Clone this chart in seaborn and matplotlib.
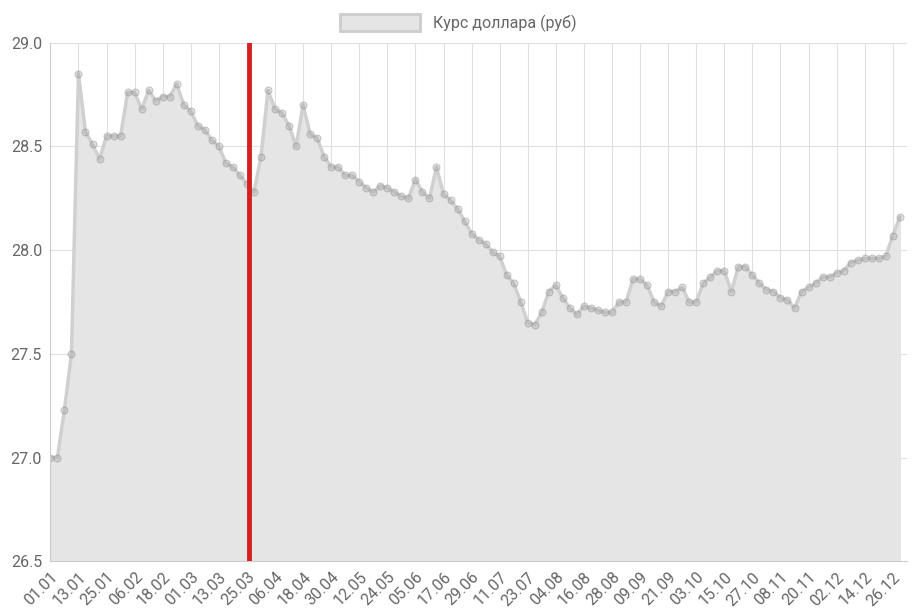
import matplotlib
matplotlib.use("Agg")
import matplotlib.pyplot as plt
import matplotlib.patches as mpatches
import seaborn as sns
import pandas as pd
import numpy as np

# курс доллара, 2000 год, отсчёт каждые 3 дня с 01.01
rate = [27.00, 27.00, 27.23, 27.50, 28.85, 28.57, 28.51, 28.44, 28.55, 28.55,
        28.55, 28.76, 28.76, 28.68, 28.77, 28.72, 28.74, 28.74, 28.80, 28.70,
        28.67, 28.60, 28.58, 28.53, 28.50, 28.42, 28.40, 28.36, 28.32, 28.28,
        28.45, 28.77, 28.68, 28.66, 28.60, 28.50, 28.70, 28.56, 28.54, 28.45,
        28.40, 28.40, 28.36, 28.36, 28.33, 28.30, 28.28, 28.31, 28.30, 28.28,
        28.26, 28.25, 28.34, 28.28, 28.25, 28.40, 28.27, 28.24, 28.20, 28.14,
        28.08, 28.05, 28.03, 27.99, 27.97, 27.88, 27.84, 27.75, 27.65, 27.64,
        27.70, 27.80, 27.83, 27.77, 27.72, 27.69, 27.73, 27.72, 27.71, 27.70,
        27.70, 27.75, 27.75, 27.86, 27.86, 27.83, 27.75, 27.73, 27.80, 27.80,
        27.82, 27.75, 27.75, 27.84, 27.87, 27.90, 27.90, 27.80, 27.92, 27.92,
        27.88, 27.84, 27.81, 27.80, 27.77, 27.76, 27.72, 27.80, 27.82, 27.84,
        27.87, 27.87, 27.89, 27.90, 27.94, 27.95, 27.96, 27.96, 27.96, 27.97,
        28.07, 28.16]
step_days = 3
event_date = "2000-03-26"

dates = pd.date_range("2000-01-01", periods=len(rate), freq=f"{step_days}D")
df = pd.DataFrame({"day": (dates - dates[0]).days, "rate": rate})
tick_dates = pd.date_range("2000-01-01", "2000-12-31", freq="12D")
tick_pos = (tick_dates - dates[0]).days
tick_labels = [d.strftime("%d.%m") for d in tick_dates]
event_pos = (pd.Timestamp(event_date) - dates[0]).days

sns.set_style("white")
plt.rcParams["font.family"] = ["Roboto", "DejaVu Sans"]

fig, ax = plt.subplots(figsize=(9.16, 6.10), dpi=100)
ax.fill_between(df["day"], 26.5, df["rate"], color="#e5e5e5", zorder=1)
sns.lineplot(data=df, x="day", y="rate", ax=ax, color="#d0d0d0", lw=2.5,
             marker="o", markersize=5, markerfacecolor=(0.55, 0.55, 0.55, 0.25),
             markeredgecolor=(0.55, 0.55, 0.55, 0.45), zorder=2)
ax.axvline(event_pos, ymin=0, ymax=1, color="#d62020", lw=3.5, zorder=3)

ax.set_xlim(0, 366)
ax.set_ylim(26.5, 29.0)
ax.set_yticks([26.5, 27.0, 27.5, 28.0, 28.5, 29.0])
ax.set_yticklabels(["26.5", "27.0", "27.5", "28.0", "28.5", "29.0"])
ax.set_xticks(tick_pos)
ax.set_xticklabels(tick_labels, rotation=45, ha="right", rotation_mode="anchor")
ax.tick_params(colors="#666666", labelsize=11.5, length=0, pad=6)
ax.grid(True, color="#e0e0e0", lw=0.8)
ax.set_axisbelow(True)
for s in ["top", "right"]:
    ax.spines[s].set_visible(False)
for s in ["left", "bottom"]:
    ax.spines[s].set_color("#cccccc")
ax.set_xlabel("")
ax.set_ylabel("")

handle = mpatches.Patch(facecolor="#e5e5e5", edgecolor="#cccccc", lw=2)
fig.legend([handle], ["Курс доллара (руб)"], loc="upper center",
           bbox_to_anchor=(0.5, 1.0), frameon=False, fontsize=11.5,
           labelcolor="#666666", handlelength=5, handleheight=1.2)

fig.subplots_adjust(left=0.055, right=0.99, top=0.93, bottom=0.08)
fig.savefig("out.png", dpi=100)
